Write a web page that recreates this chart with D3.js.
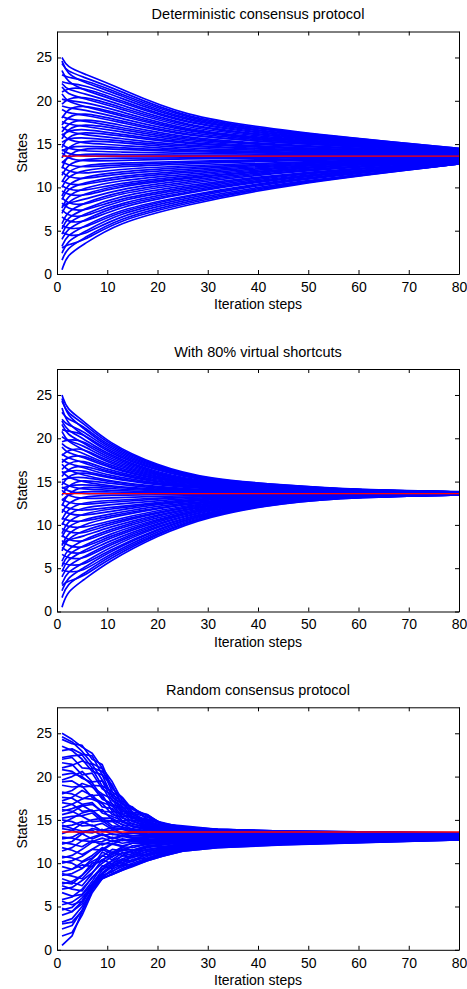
<!DOCTYPE html>
<html>
<head>
<meta charset="utf-8">
<script src="https://cdnjs.cloudflare.com/ajax/libs/d3/7.8.5/d3.min.js"></script>
<style>
  body { margin: 0; background: #fff; }
  text { font-family: "Liberation Sans", Arial, Helvetica, sans-serif; }
</style>
</head>
<body>
<div id="chart"></div>
<script>
// state of every node at step 1 (same start for all three protocols)
const initStates = [25.0, 24.3, 23.0, 24.6, 22.2, 21.0, 23.5, 22.0, 19.6, 21.6, 20.2, 18.0, 20.8, 19.4, 17.2,
  19.0, 16.4, 18.2, 15.6, 17.6, 16.0, 14.6, 17.0, 15.2, 13.4, 16.2, 14.2, 12.2, 15.0, 12.8, 14.4,
  11.4, 14.0, 10.6, 13.0, 10.0, 12.4, 9.0, 11.8, 8.6, 10.8, 7.6, 10.2, 7.0, 9.6, 7.8, 5.8, 8.8,
  5.2, 8.2, 4.6, 7.4, 4.0, 6.6, 3.2, 5.6, 2.4, 4.8, 1.6, 3.0, 0.5];

const consensusValue = 13.6;

const xTicks = [0, 10, 20, 30, 40, 50, 60, 70, 80];
const yTicks = [0, 5, 10, 15, 20, 25];

const titles = ["Deterministic consensus protocol", "With 80% virtual shortcuts", "Random consensus protocol"];

// deterministic protocol: states at these steps
const detSteps = [2, 5, 12, 25, 45, 80];
const detStates = [
  [23.9,23.2,21.6,18.2,16.5,14.5],[23.4,22.8,21.3,18.0,16.4,14.5],[22.7,22.5,21.0,17.9,16.3,14.4],
  [23.1,22.2,20.8,17.7,16.2,14.4],[22.0,21.9,20.5,17.6,16.1,14.4],[21.4,21.6,20.2,17.4,16.0,14.3],
  [22.2,21.3,20.0,17.3,15.9,14.3],[21.3,20.9,19.7,17.1,15.8,14.3],[20.2,20.6,19.4,17.0,15.7,14.3],
  [20.8,20.3,19.2,16.8,15.6,14.2],[20.0,19.9,18.9,16.6,15.5,14.2],[19.0,19.6,18.6,16.5,15.4,14.2],
  [19.9,19.4,18.4,16.4,15.3,14.1],[19.2,19.0,18.1,16.2,15.2,14.1],[18.1,18.7,17.8,16.0,15.1,14.1],
  [18.6,18.4,17.6,15.9,15.1,14.1],[17.3,18.0,17.3,15.7,14.9,14.0],[17.9,17.7,17.0,15.6,14.8,14.0],
  [16.7,17.4,16.8,15.4,14.8,14.0],[17.3,17.1,16.5,15.3,14.6,13.9],[16.5,16.8,16.2,15.1,14.6,13.9],
  [15.8,16.5,16.0,15.0,14.5,13.9],[16.5,16.1,15.7,14.8,14.4,13.8],[15.6,15.8,15.4,14.7,14.3,13.8],
  [14.6,15.5,15.2,14.5,14.2,13.8],[15.5,15.1,14.9,14.3,14.1,13.7],[14.6,14.8,14.6,14.2,14.0,13.7],
  [13.7,14.6,14.4,14.1,13.9,13.7],[14.5,14.2,14.1,13.9,13.8,13.7],[13.5,13.9,13.8,13.7,13.7,13.6],
  [13.9,13.6,13.6,13.6,13.6,13.6],[12.6,13.3,13.4,13.4,13.5,13.6],[13.4,13.0,13.1,13.3,13.4,13.5],
  [11.8,12.6,12.8,13.0,13.3,13.5],[12.6,12.3,12.6,12.9,13.2,13.5],[11.2,12.0,12.4,12.7,13.1,13.4],
  [11.9,11.5,12.1,12.5,12.9,13.4],[10.3,11.2,11.8,12.3,12.8,13.4],[11.2,10.9,11.6,12.1,12.7,13.4],
  [9.8,10.5,11.3,11.9,12.6,13.3],[10.4,10.2,11.1,11.7,12.5,13.3],[9.0,9.9,10.8,11.5,12.4,13.3],
  [9.8,9.5,10.5,11.3,12.3,13.2],[8.3,9.2,10.3,11.1,12.2,13.2],[9.2,8.9,10.1,11.0,12.1,13.2],
  [8.2,8.5,9.8,10.8,12.0,13.1],[7.2,8.1,9.5,10.6,11.9,13.1],[8.2,7.8,9.3,10.4,11.8,13.1],
  [6.5,7.4,9.0,10.2,11.6,13.0],[7.6,7.1,8.7,10.0,11.5,13.0],[5.9,6.8,8.5,9.8,11.4,13.0],
  [6.8,6.4,8.2,9.6,11.3,12.9],[5.2,6.1,8.0,9.4,11.2,12.9],[6.1,5.8,7.7,9.3,11.1,12.9],
  [4.5,5.4,7.4,9.0,11.0,12.8],[5.3,5.1,7.2,8.9,10.9,12.8],[3.8,4.7,7.0,8.7,10.8,12.8],
  [4.5,4.3,6.7,8.5,10.6,12.7],[3.0,4.0,6.4,8.3,10.5,12.7],[3.4,3.7,6.2,8.1,10.4,12.7],
  [2.2,3.3,5.9,7.9,10.3,12.7]
];

// with 80% virtual shortcuts
const vsSteps = [2, 5, 10, 20, 30, 45, 60, 80];
const vsStates = [
  [23.3,22.2,19.5,16.8,15.3,14.6,14.05,13.85],[22.9,21.9,19.3,16.7,15.2,14.6,14.0,13.8],
  [22.2,21.6,19.1,16.6,15.2,14.5,14.0,13.8],[22.6,21.3,18.9,16.5,15.1,14.5,14.0,13.8],
  [21.5,21.0,18.7,16.4,15.1,14.5,14.0,13.8],[20.8,20.7,18.5,16.3,15.0,14.4,14.0,13.8],
  [21.7,20.5,18.3,16.2,15.0,14.4,14.0,13.8],[20.9,20.1,18.1,16.0,14.9,14.4,13.9,13.8],
  [19.8,19.9,17.9,15.9,14.8,14.3,13.9,13.8],[20.4,19.6,17.7,15.8,14.8,14.3,13.9,13.8],
  [19.7,19.3,17.5,15.7,14.7,14.3,13.9,13.8],[18.6,19.0,17.3,15.6,14.7,14.2,13.9,13.8],
  [19.6,18.8,17.1,15.5,14.6,14.2,13.9,13.75],[18.8,18.4,16.9,15.4,14.6,14.2,13.85,13.75],
  [17.8,18.2,16.7,15.3,14.5,14.1,13.85,13.75],[18.3,17.9,16.6,15.2,14.5,14.1,13.8,13.7],
  [17.1,17.6,16.3,15.1,14.4,14.1,13.8,13.7],[17.7,17.3,16.1,15.0,14.3,14.0,13.8,13.7],
  [16.4,17.0,16.0,14.9,14.3,14.0,13.8,13.7],[17.1,16.7,15.7,14.8,14.2,14.0,13.8,13.7],
  [16.2,16.4,15.5,14.7,14.2,13.9,13.75,13.7],[15.6,16.2,15.4,14.6,14.1,13.9,13.7,13.7],
  [16.3,15.8,15.1,14.4,14.0,13.9,13.7,13.65],[15.4,15.6,15.0,14.3,14.0,13.8,13.7,13.65],
  [14.5,15.3,14.8,14.2,13.9,13.8,13.7,13.65],[15.5,15.0,14.5,14.1,13.9,13.8,13.7,13.65],
  [14.5,14.7,14.4,14.0,13.8,13.7,13.65,13.65],[13.6,14.5,14.2,13.9,13.8,13.7,13.65,13.65],
  [14.5,14.1,14.0,13.8,13.7,13.65,13.6,13.6],[13.5,13.9,13.8,13.7,13.65,13.6,13.6,13.6],
  [13.9,13.6,13.6,13.6,13.6,13.6,13.6,13.6],[12.5,13.3,13.4,13.5,13.5,13.6,13.6,13.6],
  [13.4,13.0,13.1,13.3,13.4,13.55,13.6,13.6],[11.8,12.6,12.8,13.1,13.3,13.5,13.55,13.6],
  [12.6,12.3,12.6,13.0,13.3,13.5,13.55,13.6],[11.2,12.0,12.3,12.8,13.2,13.45,13.55,13.6],
  [11.9,11.6,12.0,12.6,13.1,13.4,13.5,13.55],[10.4,11.3,11.8,12.5,13.0,13.4,13.5,13.55],
  [11.3,11.0,11.5,12.4,12.9,13.35,13.5,13.55],[9.8,10.6,11.2,12.2,12.8,13.3,13.5,13.55],
  [10.5,10.3,11.0,12.0,12.7,13.3,13.45,13.55],[9.0,10.0,10.8,11.9,12.7,13.2,13.45,13.55],
  [9.8,9.6,10.4,11.7,12.6,13.2,13.45,13.55],[8.4,9.3,10.2,11.5,12.5,13.2,13.4,13.55],
  [9.2,8.9,10.0,11.4,12.4,13.1,13.4,13.5],[8.3,8.6,9.7,11.2,12.3,13.1,13.4,13.5],
  [7.2,8.2,9.4,11.1,12.2,13.1,13.4,13.5],[8.3,7.9,9.2,10.9,12.1,13.0,13.4,13.5],
  [6.6,7.5,8.9,10.7,12.0,13.0,13.35,13.5],[7.6,7.2,8.6,10.6,12.0,13.0,13.35,13.5],
  [6.0,6.9,8.4,10.4,11.9,12.9,13.35,13.5],[6.9,6.5,8.1,10.2,11.8,12.9,13.3,13.5],
  [5.3,6.2,7.8,10.1,11.7,12.9,13.3,13.5],[6.2,5.9,7.6,9.9,11.6,12.8,13.3,13.5],
  [4.6,5.5,7.3,9.8,11.5,12.8,13.3,13.5],[5.4,5.2,7.0,9.6,11.4,12.8,13.3,13.5],
  [3.9,4.9,6.8,9.5,11.4,12.7,13.25,13.5],[4.6,4.5,6.5,9.3,11.3,12.7,13.25,13.45],
  [3.2,4.2,6.3,9.1,11.2,12.7,13.25,13.45],[3.5,3.9,6.0,9.0,11.1,12.6,13.2,13.45],
  [2.3,3.5,5.7,8.8,11.0,12.6,13.2,13.45]
];

// random protocol
const rndSteps = [3, 5, 7, 9, 11, 13, 15, 18, 21, 25, 32, 45, 80];
const rndStates = [
  [24.3,23.4,22.7,21.0,19.4,17.2,16.4,15.4,14.6,14.2,13.9,13.7,13.5],
  [23.8,23.6,22.0,21.4,18.6,17.6,16.2,15.6,14.5,14.3,13.9,13.7,13.5],
  [23.2,22.6,22.4,20.2,18.9,16.8,16.5,15.0,14.7,14.1,13.9,13.7,13.45],
  [24.0,22.9,21.5,20.9,18.2,17.5,15.9,15.6,14.4,14.2,13.8,13.7,13.45],
  [22.4,22.5,21.0,20.6,19.0,16.4,16.3,15.1,14.6,14.0,13.9,13.65,13.45],
  [21.3,21.8,21.4,19.6,17.9,17.1,15.8,15.3,14.4,14.1,13.8,13.65,13.4],
  [23.0,22.0,20.6,20.2,17.6,16.9,15.6,15.0,14.5,14.0,13.8,13.6,13.4],
  [22.2,21.0,20.9,18.9,18.3,16.0,15.9,14.7,14.4,13.9,13.8,13.6,13.4],
  [20.0,20.6,19.4,19.5,17.2,16.6,15.4,14.9,14.3,13.9,13.7,13.6,13.4],
  [21.4,20.2,20.4,18.6,17.8,15.8,15.7,14.6,14.2,13.9,13.7,13.6,13.4],
  [20.4,20.0,19.0,18.9,16.8,16.4,15.2,14.8,14.1,13.9,13.7,13.55,13.35],
  [18.4,19.2,18.8,18.0,17.4,15.6,15.4,14.5,14.2,13.8,13.65,13.55,13.35],
  [20.6,19.8,19.3,17.6,16.6,16.2,15.0,14.6,14.0,13.8,13.6,13.5,13.35],
  [19.5,18.8,18.9,17.4,16.9,15.4,15.3,14.3,14.1,13.8,13.6,13.5,13.3],
  [17.6,18.4,17.8,17.9,16.0,15.7,14.8,14.4,13.9,13.7,13.6,13.5,13.3],
  [18.8,18.9,17.6,17.0,16.6,15.2,14.9,14.2,14.0,13.7,13.55,13.45,13.3],
  [16.8,17.4,17.9,16.5,16.3,14.9,14.9,14.1,13.9,13.6,13.5,13.4,13.3],
  [18.0,17.5,17.4,16.9,15.6,15.3,14.5,14.2,13.8,13.6,13.5,13.4,13.3],
  [15.9,16.6,16.8,16.0,15.9,14.7,14.6,14.0,13.8,13.55,13.45,13.4,13.25],
  [17.5,16.8,17.0,15.8,15.4,14.9,14.3,14.0,13.7,13.5,13.4,13.35,13.25],
  [16.3,16.7,16.0,16.2,15.0,14.8,14.2,13.9,13.7,13.5,13.4,13.3,13.25],
  [15.2,15.8,16.1,15.2,15.2,14.4,14.3,13.8,13.6,13.45,13.4,13.3,13.2],
  [16.8,16.0,16.1,15.0,14.9,14.5,13.9,13.8,13.5,13.4,13.35,13.3,13.2],
  [15.4,15.5,15.8,14.8,14.8,14.1,14.0,13.6,13.5,13.4,13.3,13.25,13.2],
  [13.8,14.6,15.0,15.2,14.3,14.2,13.8,13.6,13.4,13.3,13.3,13.2,13.2],
  [16.0,15.4,14.8,14.9,14.1,14.0,13.7,13.5,13.4,13.3,13.25,13.2,13.15],
  [14.4,14.8,14.3,14.6,13.9,13.9,13.6,13.4,13.3,13.25,13.2,13.2,13.15],
  [12.5,13.4,14.0,13.8,14.1,13.4,13.6,13.3,13.3,13.2,13.2,13.15,13.15],
  [14.8,14.3,14.4,13.7,13.8,13.4,13.5,13.2,13.2,13.2,13.15,13.15,13.1],
  [13.0,13.6,13.5,13.9,13.3,13.4,13.2,13.2,13.1,13.15,13.1,13.1,13.1],
  [14.0,13.7,13.8,13.2,13.4,13.1,13.2,13.1,13.1,13.1,13.1,13.1,13.1],
  [11.8,12.6,13.0,13.4,12.9,13.2,13.0,13.0,13.0,13.05,13.05,13.05,13.1],
  [13.8,13.4,12.8,13.3,12.8,13.1,12.9,12.9,12.95,13.0,13.0,13.05,13.1],
  [10.9,11.6,12.4,12.5,13.0,12.6,12.8,12.7,12.9,12.9,12.95,13.0,13.05],
  [12.9,12.6,12.5,12.9,12.5,12.8,12.6,12.7,12.8,12.9,12.9,12.95,13.05],
  [10.3,10.8,11.6,12.3,12.2,12.7,12.5,12.6,12.7,12.8,12.9,12.95,13.05],
  [12.2,11.9,12.6,12.1,12.6,12.3,12.5,12.5,12.6,12.8,12.85,12.9,13.0],
  [9.3,10.1,10.6,11.6,12.3,12.0,12.3,12.4,12.6,12.7,12.8,12.9,13.0],
  [11.5,11.0,11.6,11.5,12.2,11.9,12.3,12.3,12.5,12.7,12.75,12.85,13.0],
  [8.8,9.4,10.2,10.8,11.6,11.4,12.0,12.2,12.4,12.6,12.7,12.8,13.0],
  [10.6,10.2,10.9,11.8,11.2,11.9,11.8,12.2,12.3,12.5,12.7,12.8,12.95],
  [7.9,8.6,9.7,10.4,11.0,11.6,11.5,12.0,12.2,12.5,12.6,12.75,12.95],
  [10.0,9.4,10.5,11.6,11.0,11.8,11.5,12.0,12.1,12.4,12.6,12.7,12.95],
  [7.2,8.0,8.9,10.0,10.8,11.2,11.4,11.8,12.1,12.4,12.5,12.7,12.9],
  [9.3,9.8,9.6,11.3,10.7,11.6,11.2,11.9,11.9,12.3,12.5,12.65,12.9],
  [7.6,8.6,10.0,10.2,11.3,10.9,11.5,11.5,11.9,12.2,12.45,12.6,12.9],
  [6.1,7.0,8.3,9.6,10.3,10.8,11.1,11.6,11.8,12.2,12.4,12.55,12.9],
  [8.5,8.2,9.4,10.9,10.4,11.2,10.9,11.6,11.7,12.1,12.4,12.55,12.9],
  [5.5,6.3,7.6,9.2,10.0,10.5,10.9,11.3,11.7,12.1,12.3,12.5,12.85],
  [7.8,7.4,8.8,10.4,9.9,10.9,10.6,11.4,11.5,12.0,12.3,12.5,12.85],
  [4.9,6.0,7.4,8.8,9.8,10.3,10.7,11.1,11.6,12.0,12.2,12.45,12.85],
  [7.0,6.8,8.4,9.3,10.3,10.0,10.8,10.9,11.5,11.9,12.2,12.4,12.8],
  [4.4,5.6,7.2,8.7,9.6,10.1,10.4,11.0,11.4,11.8,12.15,12.4,12.8],
  [6.2,6.4,7.9,9.7,9.4,10.4,10.2,11.1,11.2,11.8,12.1,12.35,12.8],
  [3.6,5.0,6.9,8.4,9.3,9.9,10.2,10.8,11.3,11.7,12.1,12.3,12.8],
  [5.2,5.6,7.6,8.9,9.8,9.7,10.4,10.6,11.2,11.6,12.0,12.3,12.75],
  [2.8,4.6,7.0,8.4,9.1,9.6,10.0,10.6,11.1,11.6,12.0,12.25,12.75],
  [4.4,5.3,7.3,8.6,9.0,9.8,9.8,10.5,11.0,11.5,11.9,12.2,12.75],
  [2.0,4.0,6.6,8.2,8.8,9.4,9.8,10.4,10.9,11.5,11.9,12.2,12.7],
  [3.2,4.5,6.9,8.3,8.7,9.2,9.7,10.3,10.8,11.4,11.8,12.15,12.7],
  [1.6,4.4,7.0,8.2,8.7,9.2,9.6,10.3,10.8,11.4,11.8,12.1,12.7]
];

const panels = [
  { steps: detSteps, states: detStates, curve: d3.curveBasis, stroke: 1.7 },
  { steps: vsSteps, states: vsStates, curve: d3.curveBasis, stroke: 1.7 },
  { steps: rndSteps, states: rndStates, curve: d3.curveLinear, stroke: 1.7 }
];

const width = 467, height = 989;
const left = 57, plotW = 402, plotH = 242.5;
const tops = [31.5, 369, 707.3];
const font = '"Liberation Sans", Arial, Helvetica, sans-serif';

const svg = d3.select("#chart").append("svg")
    .attr("width", width)
    .attr("height", height);

const x = d3.scaleLinear().domain([0, 80]).range([0, plotW]);
const y = d3.scaleLinear().domain([0, 28]).range([plotH, 0]);

const line = d3.line()
    .x(function(d) { return x(d[0]); })
    .y(function(d) { return y(d[1]); });

panels.forEach(function(p, i) {
    let g = svg.append("g").attr("transform", "translate(" + left + "," + tops[i] + ")");

    g.append("clipPath").attr("id", "clip" + i)
        .append("rect").attr("width", plotW).attr("height", plotH);

    let series = p.states.map(function(row, j) {
        return [[1, initStates[j]]].concat(p.steps.map(function(s, k) { return [s, row[k]]; }));
    });

    line.curve(p.curve);
    g.append("g").attr("clip-path", "url(#clip" + i + ")")
        .selectAll("path")
        .data(series)
        .join("path")
        .attr("d", line)
        .attr("fill", "none")
        .attr("stroke", "#0000ff")
        .attr("stroke-width", p.stroke)
        .attr("stroke-linejoin", "round");

    // average of initial states
    g.append("line")
        .attr("x1", x(1)).attr("x2", x(80))
        .attr("y1", y(consensusValue)).attr("y2", y(consensusValue))
        .attr("stroke", "#ff0000")
        .attr("stroke-width", 1.3);

    // axes, ticks inside on all four sides
    let xb = g.append("g").attr("transform", "translate(0," + plotH + ")")
        .call(d3.axisBottom(x).tickValues(xTicks).tickSizeInner(-4).tickSizeOuter(0).tickPadding(8));
    let xt = g.append("g")
        .call(d3.axisTop(x).tickValues(xTicks).tickSizeInner(-4).tickSizeOuter(0).tickFormat(""));
    let yl = g.append("g")
        .call(d3.axisLeft(y).tickValues(yTicks).tickSizeInner(-4).tickSizeOuter(0).tickPadding(5));
    let yr = g.append("g").attr("transform", "translate(" + plotW + ",0)")
        .call(d3.axisRight(y).tickValues(yTicks).tickSizeInner(-4).tickSizeOuter(0).tickFormat(""));

    [xb, xt, yl, yr].forEach(function(a) {
        a.attr("font-size", 14).attr("font-family", font);
        a.selectAll("text").attr("fill", "#000");
        a.selectAll("line").attr("stroke", "#000");
        a.select(".domain").attr("stroke", "#000");
    });

    // title
    g.append("text")
        .attr("x", plotW / 2)
        .attr("y", -12.5)
        .attr("text-anchor", "middle")
        .attr("font-size", 14.5)
        .attr("fill", "#000")
        .text(titles[i]);

    // x label
    g.append("text")
        .attr("x", plotW / 2)
        .attr("y", plotH + 35)
        .attr("text-anchor", "middle")
        .attr("font-size", 14)
        .attr("fill", "#000")
        .text("Iteration steps");

    // y label
    g.append("text")
        .attr("transform", "translate(" + (26.5 - left) + "," + (plotH / 2) + ") rotate(-90)")
        .attr("text-anchor", "middle")
        .attr("font-size", 14)
        .attr("fill", "#000")
        .text("States");
});
</script>
</body>
</html>
